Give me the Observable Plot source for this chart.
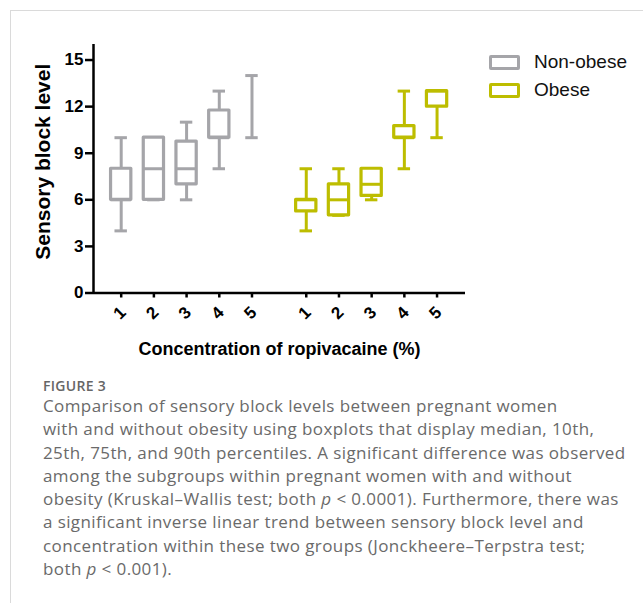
<!DOCTYPE html>
<html>
<head>
<meta charset="utf-8">
<script src="https://cdn.jsdelivr.net/npm/d3@7"></script>
<script src="https://cdn.jsdelivr.net/npm/@observablehq/plot@0.6"></script>
<style>
  html, body { margin: 0; padding: 0; background: #fff; width: 643px; height: 603px; overflow: hidden; }
  #frame { position: absolute; left: 10px; top: 10px; right: 0; bottom: 0; border-left: 1px solid #dadada; border-top: 1px solid #dadada; }
  #chart { position: absolute; left: 0; top: 0; }
  #legend { position: absolute; left: 489px; top: 48px; font-family: "Liberation Sans", Arial, sans-serif; font-size: 19px; color: #111; }
  .row { display: flex; align-items: center; height: 28px; }
  .sw { width: 25px; height: 9px; border: 3px solid; border-radius: 2px; margin-right: 14px; box-sizing: content-box; }
  #figlabel { position: absolute; left: 43px; top: 379px; font-family: "Open Sans", sans-serif; font-size: 14px; line-height: 14px; color: #666; font-weight: 600; letter-spacing: 0.3px; }
  #caption { position: absolute; left: 43px; top: 394px; font-family: "Open Sans", sans-serif; font-size: 17px; line-height: 23.3px; color: #6a6a6a; letter-spacing: 0.4px; white-space: nowrap; }
</style>
</head>
<body>
<div id="frame"></div>
<div id="chart"></div>
<div id="legend"></div>
<div id="figlabel">FIGURE 3</div>
<div id="caption">Comparison of sensory block levels between pregnant women<br>with and without obesity using boxplots that display median, 10th,<br>25th, 75th, and 90th percentiles. A significant difference was observed<br>among the subgroups within pregnant women with and without<br>obesity (Kruskal–Wallis test; both <i>p</i> &lt; 0.0001). Furthermore, there was<br>a significant inverse linear trend between sensory block level and<br>concentration within these two groups (Jonckheere–Terpstra test;<br>both <i>p</i> &lt; 0.001).</div>
<script>
// ---- data ----
const categories = ["1", "2", "3", "4", "5"];
const groups = ["Non-obese", "Obese"];
const groupColors = ["#a5a5a9", "#bdbd00"];

const nonObeseP10    = [4, 6, 6, 8, 10];
const nonObeseQ1     = [6, 6, 7, 10, 14];
const nonObeseMedian = [6, 8, 8, 10, 14];
const nonObeseQ3     = [8, 10, 9.75, 11.75, 14];
const nonObeseP90    = [10, 10, 11, 13, 14];

const obeseP10    = [4, 5, 6, 8, 10];
const obeseQ1     = [5.25, 5, 6.25, 10, 12];
const obeseMedian = [6, 6, 7, 10, 13];
const obeseQ3     = [6, 7, 8, 10.75, 13];
const obeseP90    = [8, 8, 8, 13, 13];

const yTicks = [0, 3, 6, 9, 12, 15];

// ---- build table ----
const groupGap = 5.66; // slot offset of second group
const rows = [];
categories.forEach((c, i) => {
  rows.push({group: groups[0], cat: c, pos: i, p10: nonObeseP10[i], q1: nonObeseQ1[i], med: nonObeseMedian[i], q3: nonObeseQ3[i], p90: nonObeseP90[i]});
});
categories.forEach((c, i) => {
  rows.push({group: groups[1], cat: c, pos: i + groupGap, p10: obeseP10[i], q1: obeseQ1[i], med: obeseMedian[i], q3: obeseQ3[i], p90: obeseP90[i]});
});
const boxes = rows.filter(d => d.q3 > d.q1);

const halfBox = 0.31, halfCap = 0.19;
const xDomain = [-0.847, 10.53];
const font = "'Liberation Sans', Arial, sans-serif";
const color = {domain: groups, range: groupColors};

const chart = Plot.plot({
  width: 643,
  height: 360,
  marginLeft: 93,
  marginRight: 178,
  marginTop: 44,
  marginBottom: 67.5,
  style: {fontFamily: font, color: "#000", background: "transparent"},
  x: {domain: xDomain, axis: null},
  y: {domain: [0, 16], axis: null},
  color,
  marks: [
    // whiskers
    Plot.ruleX(rows, {x: "pos", y1: "p10", y2: "p90", stroke: "group", strokeWidth: 3}),
    // caps
    Plot.ruleY(rows, {y: "p10", x1: d => d.pos - halfCap, x2: d => d.pos + halfCap, stroke: "group", strokeWidth: 3}),
    Plot.ruleY(rows, {y: "p90", x1: d => d.pos - halfCap, x2: d => d.pos + halfCap, stroke: "group", strokeWidth: 3}),
    // boxes
    Plot.rect(boxes, {x1: d => d.pos - halfBox, x2: d => d.pos + halfBox, y1: "q1", y2: "q3", fill: "white", stroke: "group", strokeWidth: 3.2, strokeLinejoin: "round"}),
    // medians
    Plot.ruleY(boxes, {y: "med", x1: d => d.pos - halfBox, x2: d => d.pos + halfBox, stroke: "group", strokeWidth: 3}),
    // axes lines
    Plot.ruleX([xDomain[0]], {stroke: "#000", strokeWidth: 2.5}),
    Plot.ruleY([0], {stroke: "#000", strokeWidth: 2.5}),
    // y ticks + labels
    Plot.axisY({ticks: yTicks, tickSize: 8, tickPadding: 2, fontSize: 17, fontWeight: "bold", strokeWidth: 2.5, label: null, anchor: "left"}),
    // x ticks
    Plot.axisX({ticks: rows.map(d => d.pos), tickSize: 5, strokeWidth: 2.5, tickFormat: () => "", label: null, anchor: "bottom"}),
    // x tick labels (rotated)
    Plot.text(rows, {x: "pos", y: () => 0, text: "cat", rotate: -45, dy: 20, dx: -1.5, fontSize: 17, fontWeight: "bold", textAnchor: "middle", lineAnchor: "middle", fill: "#000"}),
    // axis titles
    Plot.text(["Concentration of ropivacaine (%)"], {frameAnchor: "bottom", dy: 56, lineAnchor: "middle", fontSize: 18, fontWeight: "bold", fill: "#000"}),
    Plot.text(["Sensory block level"], {frameAnchor: "left", dx: -50, dy: -7, rotate: -90, lineAnchor: "middle", textAnchor: "middle", fontSize: 21, fontWeight: "bold", fill: "#000"})
  ]
});
document.getElementById("chart").appendChild(chart);

// legend
const legend = document.getElementById("legend");
groups.forEach((g, i) => {
  const row = document.createElement("div");
  row.className = "row";
  const sw = document.createElement("div");
  sw.className = "sw";
  sw.style.borderColor = groupColors[i];
  const t = document.createElement("span");
  t.textContent = g;
  row.appendChild(sw);
  row.appendChild(t);
  legend.appendChild(row);
});
</script>
</body>
</html>
